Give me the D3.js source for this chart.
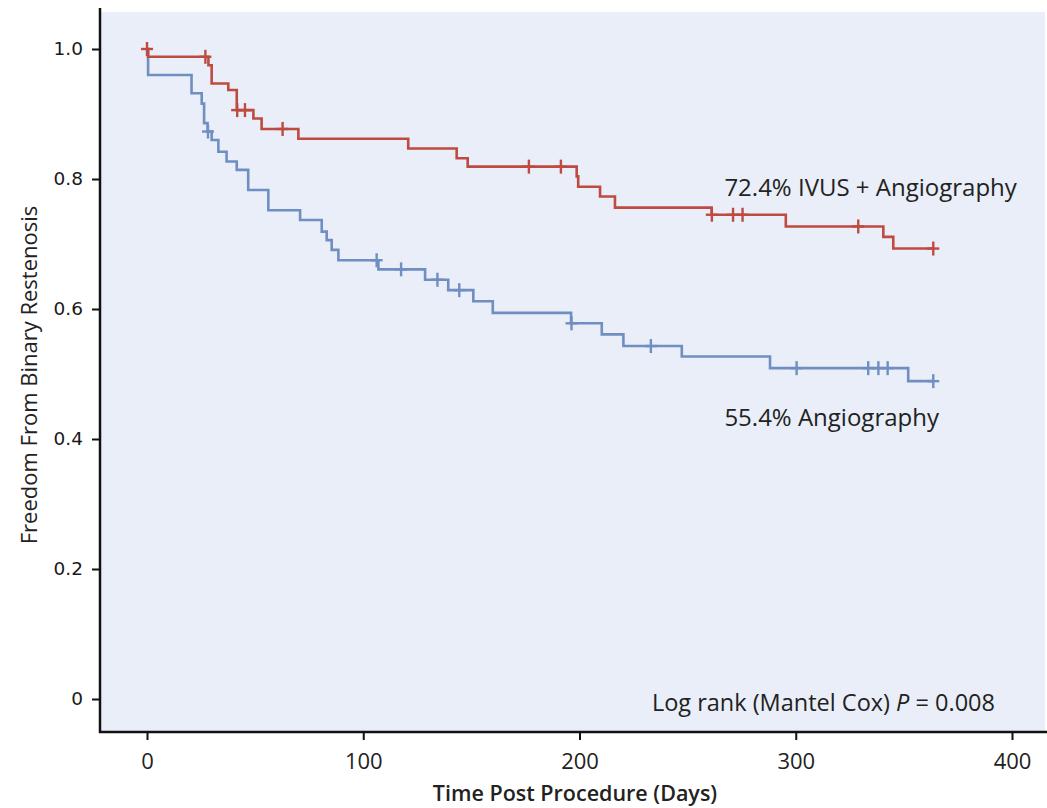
<!DOCTYPE html>
<html>
<head>
<meta charset="utf-8">
<script src="https://cdn.jsdelivr.net/npm/d3@7"></script>
<style>
  html, body { margin: 0; padding: 0; background: #ffffff; }
  svg { display: block; }
</style>
</head>
<body>
<svg id="chart" width="1047" height="808"></svg>
<script>
// ---- Data ----
const xTicks = [0, 100, 200, 300, 400];
const yTicks = [0, 0.2, 0.4, 0.6, 0.8, 1.0];
const yTickLabels = ["0", "0.2", "0.4", "0.6", "0.8", "1.0"];

// IVUS + Angiography: step times (days) and survival after each step
const ivusTimes = [0, 0.5, 28.4, 29.9, 37.6, 41.5, 49.2, 53, 70, 120.8, 143.2, 148.3, 198.7, 199.4, 209.5, 216.4, 261.1, 295.4, 340.5, 345.1];
const ivusSurv  = [1.0, 0.988, 0.975, 0.947, 0.937, 0.906, 0.893, 0.877, 0.862, 0.847, 0.832, 0.819, 0.804, 0.788, 0.773, 0.756, 0.745, 0.727, 0.711, 0.693];
const ivusEnd = 363.6;
const ivusCensor = [0, 27, 41.7, 45.3, 62.7, 176.6, 191.4, 261.2, 271, 275.4, 328.9, 363.6];

// Angiography only
const angioTimes = [0, 0.5, 20.6, 25.3, 26.4, 28, 29.9, 33, 36.8, 41.5, 46.8, 56.1, 70.8, 80.8, 83.1, 85.4, 88.5, 107, 128.6, 139.3, 150.9, 159.9, 196.1, 210.3, 220.3, 247.3, 288.1, 352];
const angioSurv  = [1.0, 0.96, 0.932, 0.916, 0.886, 0.873, 0.86, 0.842, 0.827, 0.814, 0.783, 0.752, 0.737, 0.719, 0.706, 0.691, 0.675, 0.661, 0.645, 0.629, 0.612, 0.594, 0.578, 0.561, 0.543, 0.527, 0.509, 0.489];
const angioEnd = 363.6;
const angioCensor = [28.2, 106.2, 117.5, 134.3, 144.4, 196.3, 233, 300.4, 333.5, 338.2, 342.5, 363.6];

const seriesLabels = ["72.4% IVUS + Angiography", "55.4% Angiography"];
const labelPos = [[267, 0.774], [267, 0.42]];
const statText = ["Log rank (Mantel Cox) ", "P", " = 0.008"];
const xTitle = "Time Post Procedure (Days)";
const yTitle = "Freedom From Binary Restenosis";

// ---- Layout ----
const svg = d3.select("#chart");
const plotLeft = 100, plotRight = 1045, plotTop = 12, plotBottom = 732;

const x = d3.scaleLinear().domain([0, 400]).range([147, 1012]);
const y = d3.scaleLinear().domain([0, 1]).range([699, 49]);

svg.append("rect")
  .attr("x", plotLeft).attr("y", plotTop)
  .attr("width", plotRight - plotLeft).attr("height", plotBottom - plotTop)
  .attr("fill", "#e9eef8");

// Axes
const yAxis = d3.axisLeft(y).tickValues(yTicks).tickSize(8).tickPadding(9)
  .tickFormat((d, i) => yTickLabels[i]);
const gy = svg.append("g").attr("transform", `translate(${plotLeft},0)`).call(yAxis);
gy.select(".domain").remove();
gy.selectAll(".tick line").attr("stroke", "#111").attr("stroke-width", 2);
gy.selectAll(".tick text").attr("font-family", "DejaVu Sans").attr("font-size", 18.5).attr("fill", "#1a1a1a");
svg.append("line").attr("x1", plotLeft).attr("x2", plotLeft).attr("y1", plotTop - 4).attr("y2", plotBottom + 1)
  .attr("stroke", "#111").attr("stroke-width", 2.5);

const xAxis = d3.axisBottom(x).tickValues(xTicks).tickSize(8).tickPadding(13);
const gx = svg.append("g").attr("transform", `translate(0,${plotBottom})`).call(xAxis);
gx.select(".domain").remove();
gx.selectAll(".tick line").attr("stroke", "#111").attr("stroke-width", 2);
gx.selectAll(".tick text").attr("font-family", "Open Sans").attr("font-size", 22).attr("fill", "#222");
svg.append("line").attr("x1", plotLeft - 1).attr("x2", 1047).attr("y1", plotBottom).attr("y2", plotBottom)
  .attr("stroke", "#111").attr("stroke-width", 2.5);

// Titles
svg.append("text").attr("x", 575).attr("y", 801).attr("text-anchor", "middle")
  .attr("font-family", "Open Sans").attr("font-weight", 600).attr("font-size", 21.5)
  .attr("fill", "#222").text(xTitle);
svg.append("text").attr("transform", "translate(37,375) rotate(-90)").attr("text-anchor", "middle")
  .attr("font-family", "Open Sans").attr("font-weight", 500).attr("font-size", 22)
  .attr("fill", "#222").text(yTitle);

// Curves
function stepPoints(times, surv, end) {
  const pts = [];
  times.forEach((t, i) => {
    if (i > 0) pts.push([t, surv[i - 1]]);
    pts.push([t, surv[i]]);
  });
  pts.push([end, surv[surv.length - 1]]);
  return pts;
}
function survAt(times, surv, t) {
  let v = surv[0];
  for (let i = 0; i < times.length; i++) if (times[i] <= t) v = surv[i];
  return v;
}
const line = d3.line().x(d => x(d[0])).y(d => y(d[1]));

const groups = [
  { times: angioTimes, surv: angioSurv, end: angioEnd, censor: angioCensor, color: "#6f8fc2" },
  { times: ivusTimes, surv: ivusSurv, end: ivusEnd, censor: ivusCensor, color: "#bf4a40" }
];
groups.forEach(g => {
  svg.append("path").datum(stepPoints(g.times, g.surv, g.end))
    .attr("d", line).attr("fill", "none").attr("stroke", g.color).attr("stroke-width", 2.6);
  const c = svg.append("g");
  g.censor.forEach(t => {
    const cx = x(t), cy = y(survAt(g.times, g.surv, t));
    c.append("line").attr("x1", cx).attr("x2", cx).attr("y1", cy - 7).attr("y2", cy + 7)
      .attr("stroke", g.color).attr("stroke-width", 2.4);
    c.append("line").attr("x1", cx - 6).attr("x2", cx + 6).attr("y1", cy).attr("y2", cy)
      .attr("stroke", g.color).attr("stroke-width", 2.4);
  });
});

// Labels
seriesLabels.forEach((s, i) => {
  svg.append("text").attr("x", x(labelPos[i][0])).attr("y", y(labelPos[i][1]))
    .attr("font-family", "Open Sans").attr("font-size", 24).attr("fill", "#222").text(s);
});
const st = svg.append("text").attr("x", 995).attr("y", 711).attr("text-anchor", "end")
  .attr("font-family", "Open Sans").attr("font-size", 23.5).attr("fill", "#222");
st.append("tspan").text(statText[0]);
st.append("tspan").attr("font-style", "italic").text(statText[1]);
st.append("tspan").text(statText[2]);
</script>
</body>
</html>
